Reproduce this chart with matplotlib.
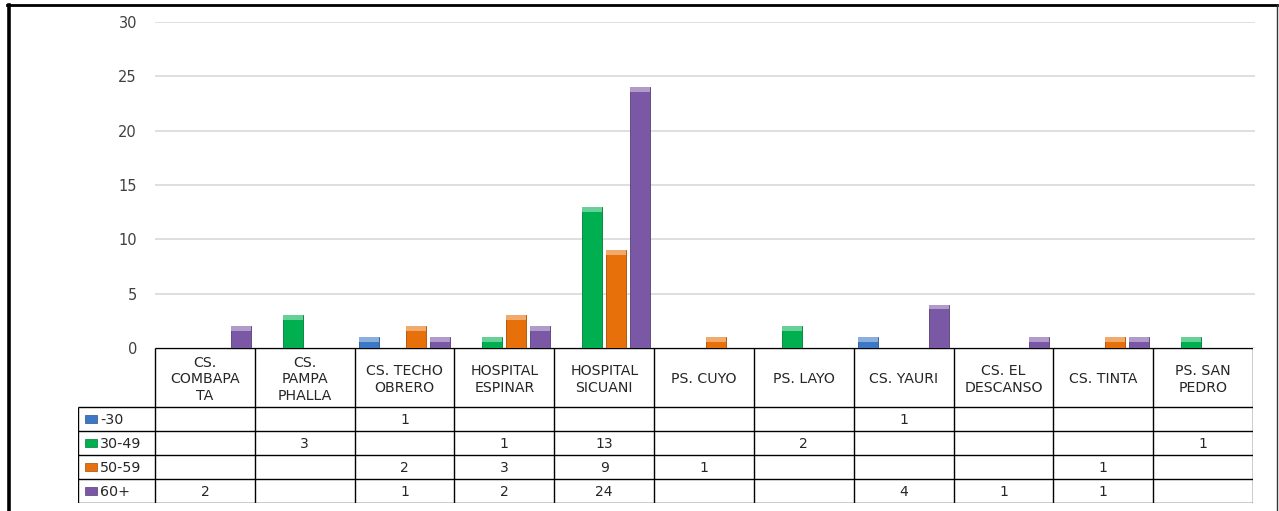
import numpy as np
import matplotlib
matplotlib.use("Agg")
import matplotlib.pyplot as plt
from matplotlib.lines import Line2D
from matplotlib.patches import Rectangle
import matplotlib.colors as mcolors

# data
centros = ["CS.\nCOMBAPA\nTA", "CS.\nPAMPA\nPHALLA", "CS. TECHO\nOBRERO", "HOSPITAL\nESPINAR",
           "HOSPITAL\nSICUANI", "PS. CUYO", "PS. LAYO", "CS. YAURI", "CS. EL\nDESCANSO",
           "CS. TINTA", "PS. SAN\nPEDRO"]
grupos = ["-30", "30-49", "50-59", "60+"]
menos30 = [None, None, 1, None, None, None, None, 1, None, None, None]
de30_49 = [None, 3, None, 1, 13, None, 2, None, None, None, 1]
de50_59 = [None, None, 2, 3, 9, 1, None, None, None, 1, None]
mas60 = [2, None, 1, 2, 24, None, None, 4, 1, 1, None]
series = [menos30, de30_49, de50_59, mas60]
colores = ["#3d78c6", "#00b050", "#e8700a", "#7b58a6"]

W, H = 1279, 511
fig = plt.figure(figsize=(W / 100, H / 100), dpi=100)
fig.patch.set_facecolor("white")

def fx(px):
    return px / W

def fy(py):
    return 1 - py / H

# main chart area
ax = fig.add_axes([fx(155), fy(348), fx(1255) - fx(155), fy(22) - fy(348)])
n = len(centros)
ax.set_xlim(0, n * 1.002)
ax.set_ylim(0, 30)
ax.set_yticks(range(0, 31, 5))
ax.yaxis.grid(True, color="#d9d9d9", lw=1.2)
ax.set_axisbelow(True)
for s in ax.spines.values():
    s.set_visible(False)
ax.set_xticks([])
ax.tick_params(axis="y", length=0, pad=13, labelsize=10.5, labelcolor="#404040")

offsets = [-0.36, -0.12, 0.12, 0.36]
x = np.arange(n) + 0.5
for vals, col, off in zip(series, colores, offsets):
    h = np.array([v if v is not None else 0 for v in vals], dtype=float)
    m = h > 0
    dark = np.array(mcolors.to_rgb(col)) * 0.7
    light = np.array(mcolors.to_rgb(col)) * 0.6 + 0.4
    ax.bar(x[m] + off, h[m], width=0.2, color=col, edgecolor=dark, lw=0.6, zorder=2)
    cap = np.minimum(0.45, h[m] * 0.45)
    ax.bar(x[m] + off, cap, bottom=h[m] - cap, width=0.2, color=light, lw=0, zorder=3)

# data table under the chart
tab = fig.add_axes([fx(78), fy(503), fx(1253) - fx(78), fy(348) - fy(503)])
lab_w = 77 / 99.8
head_h = 59 / 24
tab.set_xlim(-lab_w, n)
tab.set_ylim(head_h + 4, 0)
tab.axis("off")
lk = dict(color="black", lw=1.0, solid_capstyle="butt")
# horizontal lines
tab.plot([0, n], [0, 0], **lk)
for r in range(5):
    tab.plot([-lab_w, n], [head_h + r, head_h + r], **lk)
# vertical lines
for c in range(n + 1):
    tab.plot([c, c], [0, head_h + 4], **lk)
tab.plot([-lab_w, -lab_w], [head_h, head_h + 4], **lk)

for c, name in enumerate(centros):
    tab.text(c + 0.5, head_h / 2 + 0.08, name, ha="center", va="center", fontsize=10.2,
             color="#262626", linespacing=1.2)

for r, (g, vals, col) in enumerate(zip(grupos, series, colores)):
    yc = head_h + r + 0.5
    tab.add_patch(Rectangle((-lab_w + 0.07, yc - 0.17), 0.12, 0.34, facecolor=col,
                            edgecolor=np.array(mcolors.to_rgb(col)) * 0.7, lw=0.5))
    tab.text(-lab_w + 0.22, yc + 0.03, g, ha="left", va="center", fontsize=10.3,
             color="#262626")
    for c, v in enumerate(vals):
        if v is not None:
            tab.text(c + 0.5, yc + 0.03, str(v), ha="center", va="center", fontsize=10,
                     color="#262626")

# outer frame
fig.add_artist(Line2D([fx(8.5), fx(8.5)], [fy(5), 0], color="black", lw=2.6,
                      transform=fig.transFigure))
fig.add_artist(Line2D([fx(7), fx(1277)], [fy(5.5), fy(5.5)], color="black", lw=2,
                      transform=fig.transFigure))
fig.add_artist(Line2D([fx(1276.5), fx(1276.5)], [fy(5), 0], color="#333333", lw=1,
                      transform=fig.transFigure))

fig.savefig("out.png", dpi=100)
